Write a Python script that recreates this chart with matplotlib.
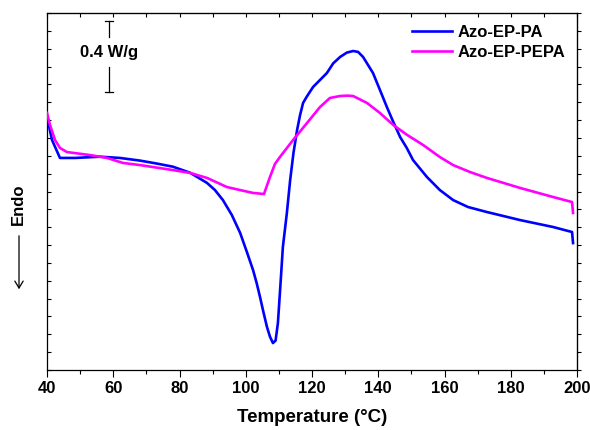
import matplotlib
matplotlib.use("Agg")
import matplotlib.pyplot as plt
from matplotlib.ticker import MultipleLocator

plt.rcParams['font.family'] = ['Liberation Sans', 'DejaVu Sans']
plt.rcParams['font.weight'] = 'bold'

# Azo-EP-PA (blue)
t_pa = [40.0, 41.5, 43.9, 48.5, 56.0, 62.0, 68.1, 73.0, 78.0, 83.2, 88.3, 90.7, 93.1, 95.8, 98.3,
        100.3, 102.2, 103.3, 104.3, 105.3, 106.4, 107.3, 108.2, 109.0, 109.7, 110.5, 111.2,
        112.4, 113.4, 114.4, 115.5, 116.4, 117.3, 118.4,
        120.3, 124.5, 126.4, 128.5, 130.5, 132.4, 133.9, 135.4, 138.4, 140.5, 142.6, 144.5,
        146.6, 148.6, 150.5, 154.7, 158.6, 162.6, 167.1, 172.8, 182.8, 192.8, 198.5, 198.8]
v_pa = [1.417, 1.289, 1.188, 1.188, 1.195, 1.188, 1.173, 1.157, 1.139, 1.105, 1.048, 1.008, 0.952, 0.868, 0.768,
        0.663, 0.560, 0.486, 0.409, 0.327, 0.241, 0.187, 0.151, 0.165, 0.263, 0.487, 0.689,
        0.879, 1.064, 1.216, 1.345, 1.429, 1.496, 1.531,
        1.585, 1.664, 1.718, 1.754, 1.778, 1.787, 1.782, 1.754, 1.664, 1.569, 1.473, 1.391,
        1.305, 1.244, 1.176, 1.081, 1.008, 0.952, 0.913, 0.885, 0.840, 0.801, 0.773, 0.711]

# Azo-EP-PEPA (magenta)
t_pepa = [40.0, 40.9, 42.4, 43.9, 46.0, 53.0, 58.1, 62.9, 68.1, 78.0, 83.2, 88.3, 94.3,
          98.3, 102.2, 105.5, 107.3, 108.8, 110.3, 114.3, 118.5, 122.4, 125.4, 128.5,
          130.6, 132.4, 136.6, 140.5, 144.5, 148.7, 153.5, 158.6, 162.6, 167.7, 172.8,
          182.8, 192.8, 198.5, 198.8]
v_pepa = [1.440, 1.373, 1.289, 1.244, 1.221, 1.204, 1.188, 1.160, 1.148, 1.120, 1.104, 1.076, 1.025,
          1.008, 0.992, 0.986, 1.081, 1.154, 1.193, 1.289, 1.384, 1.473, 1.524, 1.535,
          1.537, 1.535, 1.496, 1.440, 1.373, 1.317, 1.261, 1.193, 1.148, 1.109, 1.076,
          1.020, 0.969, 0.941, 0.880]

x_ticks = [40, 60, 80, 100, 120, 140, 160, 180, 200]

fig = plt.figure(figsize=(5.9, 4.3), dpi=100)
ax = fig.add_axes([0.0797, 0.1395, 0.8983, 0.8303])

ax.plot(t_pa, v_pa, color='#0000FF', lw=1.9, label='Azo-EP-PA', zorder=3)
ax.plot(t_pepa, v_pepa, color='#FF00FF', lw=1.9, label='Azo-EP-PEPA', zorder=3)

ax.set_xlim(40, 200)
ax.set_ylim(0, 2.0)
ax.set_xticks(x_ticks)
ax.xaxis.set_minor_locator(MultipleLocator(10))
ax.yaxis.set_major_locator(MultipleLocator(0.1))
ax.set_yticklabels([])
ax.tick_params(axis='x', which='major', direction='out', length=5, width=0.8, labelsize=12, pad=3)
ax.tick_params(axis='x', which='minor', direction='out', length=3, width=0.8)
ax.tick_params(axis='y', which='major', direction='in', length=3, width=0.8)
for s in ax.spines.values():
    s.set_linewidth(0.9)

top = ax.secondary_xaxis('top')
top.set_xticks(x_ticks)
top.xaxis.set_minor_locator(MultipleLocator(10))
top.tick_params(axis='x', which='both', direction='in', length=3, width=0.8, labeltop=False)
right = ax.secondary_yaxis('right')
right.yaxis.set_major_locator(MultipleLocator(0.1))
right.tick_params(axis='y', which='major', direction='out', length=3, width=0.8, labelright=False)

for lab in ax.get_xticklabels():
    lab.set_fontweight('bold')

ax.set_xlabel('Temperature (°C)', fontsize=13.5, fontweight='bold', labelpad=9)

# y label "Endo" with arrow
fig.text(18/590, 1 - 204/430, 'Endo', rotation=90, fontsize=12, fontweight='bold',
         ha='center', va='center')
fig.add_artist(matplotlib.patches.FancyArrowPatch(
    (19/590, 1 - 233/430), (19/590, 1 - 292/430), transform=fig.transFigure,
    arrowstyle='->,head_length=5,head_width=3', mutation_scale=1, lw=0.9, color='black'))

# scale bar 0.4 W/g
xs = 58.7
ax.plot([xs, xs], [1.957, 1.864], color='black', lw=0.9)
ax.plot([xs, xs], [1.699, 1.559], color='black', lw=0.9)
ax.plot([xs - 1.2, xs + 1.2], [1.957, 1.957], color='black', lw=0.9)
ax.plot([xs - 1.2, xs + 1.2], [1.559, 1.559], color='black', lw=0.9)
ax.text(xs, 1.78, '0.4 W/g', fontsize=12, fontweight='bold', ha='center', va='center')

leg = ax.legend(loc='upper right', frameon=False, handlelength=2.4,
                handletextpad=0.35, labelspacing=0.3, borderaxespad=0.3,
                prop={'weight': 'bold', 'size': 12})

fig.savefig('out.png', dpi=100)
